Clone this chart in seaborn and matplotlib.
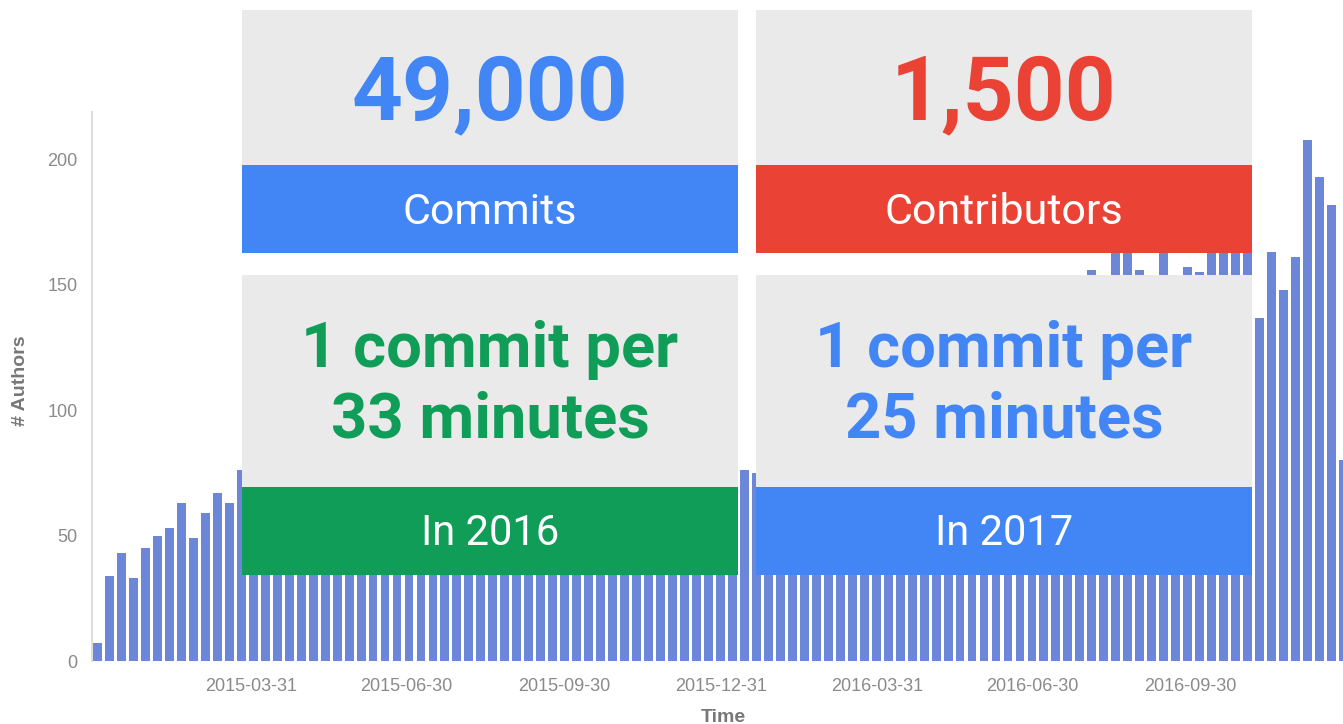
import pandas as pd
import matplotlib.pyplot as plt
import seaborn as sns
from matplotlib.patches import Rectangle

# weekly author counts, weeks starting 2014-12-28
week_start = "2014-12-28"
authors = [7, 34, 43, 33, 45, 50, 53, 63, 49, 59, 67, 63, 76,
           72, 68, 74, 79, 70, 66, 75, 81, 77, 73,
           69, 78, 84, 80, 74, 71, 79, 86, 82, 77,
           72, 80, 88, 83, 78, 75, 82, 90, 85, 79,
           70, 76, 84, 89, 81, 77, 83, 91, 86, 80,
           78, 76, 75,
           88, 95, 101, 97, 104, 110, 106, 99, 112, 118,
           114, 108, 121, 126, 119, 115, 128, 133, 125, 131,
           138, 134, 129, 142, 146, 140, 149,
           156, 148, 168, 166, 156, 150, 170, 146, 157, 155,
           172, 178, 169, 175, 137, 163, 148, 161, 208, 193, 182, 80]
tick_dates = ["2015-03-31", "2015-06-30", "2015-09-30", "2015-12-31",
              "2016-03-31", "2016-06-30", "2016-09-30"]
y_ticks = [0, 50, 100, 150, 200]

# stat cards: headline, caption, colour
card_heads = [["49,000"], ["1,500"], ["1 commit per", "33 minutes"], ["1 commit per", "25 minutes"]]
card_captions = ["Commits", "Contributors", "In 2016", "In 2017"]
card_colors = ["#4285f4", "#ea4335", "#0f9d58", "#4285f4"]

W, H = 1343, 724
bar_color = "#6c87d8"
grey_txt = "#8a8a8a"

sns.set_style("white")
fig = plt.figure(figsize=(W / 100, H / 100), dpi=100)
ax = fig.add_axes([92 / W, 1 - 661 / H, (W - 92) / W, (661 - 112) / H])

df = pd.DataFrame({"week": range(len(authors)), "authors": authors})
sns.barplot(data=df, x="week", y="authors", color=bar_color, saturation=1,
            width=0.74, linewidth=0, orient="v", ax=ax)

first_center = pd.Timestamp(week_start) + pd.Timedelta(hours=84)
tick_pos = [(pd.Timestamp(d) - first_center) / pd.Timedelta(days=7) for d in tick_dates]
ax.set_xticks(tick_pos, tick_dates)
ax.set_yticks(y_ticks, [str(v) for v in y_ticks])
ax.set_xlim(-0.46, (W - 97.5) / 11.98)
ax.set_ylim(0, 219)

for side in ["top", "right", "bottom"]:
    ax.spines[side].set_visible(False)
ax.spines["left"].set_color("#dddddd")
ax.spines["left"].set_linewidth(1.5)
ax.tick_params(axis="both", colors="#cccccc", labelcolor=grey_txt, length=7, width=1)
ax.tick_params(axis="y", labelsize=13, pad=3.5)
ax.tick_params(axis="x", labelsize=13, pad=5)
for lab in ax.get_xticklabels() + ax.get_yticklabels():
    lab.set_family("Liberation Sans")

ax.set_xlabel("Time", fontsize=14, fontweight="bold", color="#777777", family="Liberation Sans")
ax.set_ylabel("# Authors", fontsize=14, fontweight="bold", color="#777777", family="Liberation Sans")
ax.xaxis.set_label_coords((723 - 92) / (W - 92), -(709 - 661) / (661 - 112))
ax.yaxis.set_label_coords(-(92 - 29) / (W - 92), 0.51)

# card geometry in pixels: left, top, band top, bottom
card_boxes = [(242, 10, 165, 253), (756, 10, 165, 253), (242, 275, 487, 575), (756, 275, 487, 575)]
card_w = 496


def fx(px):
    return px / W


def fy(py):
    return 1 - py / H


for (left, top, band, bottom), heads, cap, col in zip(card_boxes, card_heads, card_captions, card_colors):
    fig.add_artist(Rectangle((fx(left), fy(band)), card_w / W, (band - top) / H,
                             transform=fig.transFigure, facecolor="#eaeaea", edgecolor="none", zorder=5))
    fig.add_artist(Rectangle((fx(left), fy(bottom)), card_w / W, (bottom - band) / H,
                             transform=fig.transFigure, facecolor=col, edgecolor="none", zorder=5))
    cx = fx(left + card_w / 2)
    if len(heads) == 1:
        fig.text(cx, fy(top + 109), heads[0], ha="center", va="baseline", fontsize=64,
                 fontweight="bold", color=col, family="Roboto", zorder=6)
        fig.text(cx, fy(band + 59), cap, ha="center", va="baseline", fontsize=31,
                 color="white", family="Roboto", zorder=6)
    else:
        fig.text(cx, fy(top + 92), heads[0], ha="center", va="baseline", fontsize=45.5,
                 fontweight="bold", color=col, family="Roboto", zorder=6)
        fig.text(cx, fy(top + 162), heads[1], ha="center", va="baseline", fontsize=45.5,
                 fontweight="bold", color=col, family="Roboto", zorder=6)
        fig.text(cx, fy(band + 58), cap, ha="center", va="baseline", fontsize=30,
                 color="white", family="Roboto", zorder=6)

fig.savefig("out.png", dpi=100)
